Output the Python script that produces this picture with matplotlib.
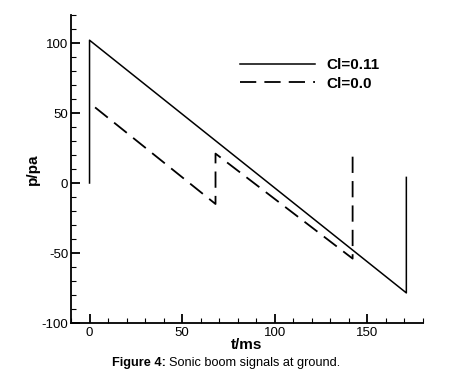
import matplotlib
matplotlib.use('Agg')
import matplotlib.pyplot as plt
from matplotlib.ticker import MultipleLocator

plt.rcParams['font.family'] = ['Liberation Sans', 'DejaVu Sans']
plt.rcParams['axes.unicode_minus'] = False

# sonic boom signals
t_cl011 = [0, 0, 171, 171]
p_cl011 = [0, 102, -78.5, 4]
t_cl00 = [3, 68, 68, 142, 142]
p_cl00 = [54, -15, 21, -54, 22]
labels = ['Cl=0.11', 'Cl=0.0']

fig = plt.figure(figsize=(4.59, 3.8), dpi=100)
ax = fig.add_axes([0.1547, 0.15, 0.9216 - 0.1547, 0.9605 - 0.15])

ax.plot(t_cl011, p_cl011, 'k-', lw=1.1, label=labels[0])
ax.plot(t_cl00, p_cl00, 'k', lw=1.3, dashes=(9, 4.5), label=labels[1])

ax.set_xlim(-10, 180)
ax.set_ylim(-100, 120)
ax.xaxis.set_major_locator(MultipleLocator(50))
ax.xaxis.set_minor_locator(MultipleLocator(10))
ax.yaxis.set_major_locator(MultipleLocator(50))
ax.yaxis.set_minor_locator(MultipleLocator(10))
ax.tick_params(which='major', direction='in', length=6.5, width=1.3, labelsize=9.5)
ax.tick_params(which='minor', direction='in', length=3.5, width=0.8)
ax.tick_params(axis='x', pad=3)
ax.tick_params(axis='y', pad=2)

for s in ['top', 'right']:
    ax.spines[s].set_visible(False)
for s in ['left', 'bottom']:
    ax.spines[s].set_linewidth(1.3)

ax.set_xlabel('t/ms', fontsize=11, fontweight='bold', labelpad=-1)
ax.set_ylabel('p/pa', fontsize=11, fontweight='bold', labelpad=1)

leg = ax.legend(loc='upper left', bbox_to_anchor=(0.44, 0.905), frameon=False,
                handlelength=4.9, handletextpad=0.8, labelspacing=0.3,
                prop={'size': 11, 'weight': 'bold'})

# caption: bold "Figure 4:" followed by normal text
cap1 = fig.text(0.244, 0.045, 'Figure 4:', fontsize=9.2, fontweight='bold',
                ha='left', va='center')
fig.canvas.draw()
bb = cap1.get_window_extent()
x2 = (bb.x1 + 3) / fig.bbox.width
fig.text(x2, 0.045, 'Sonic boom signals at ground.', fontsize=9.2, ha='left', va='center')

fig.savefig('out.png', dpi=100)
